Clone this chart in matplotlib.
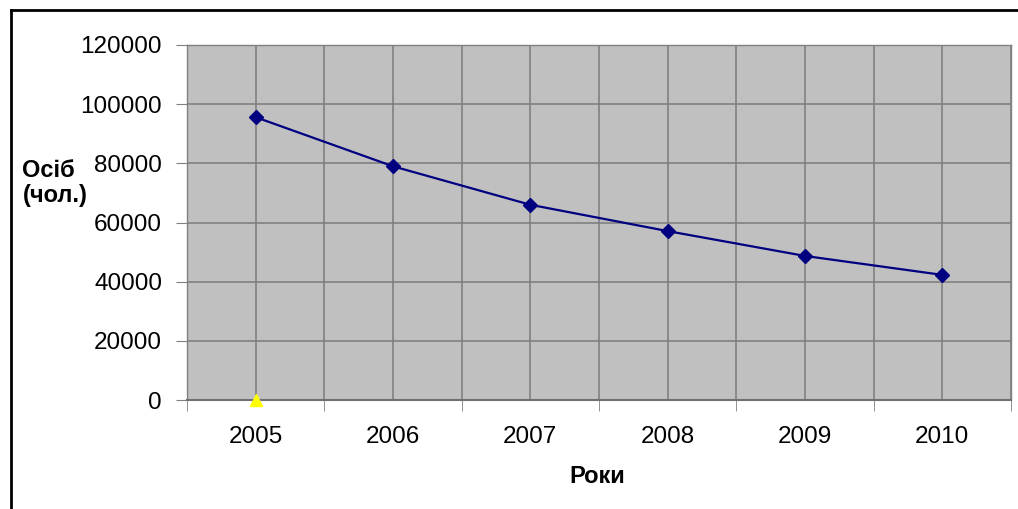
import matplotlib.pyplot as plt
from matplotlib.lines import Line2D

# Chart data
years = ['2005', '2006', '2007', '2008', '2009', '2010']
persons = [95600, 79000, 66000, 57100, 48700, 42300]
marker_series = [0]  # yellow triangle at 2005

plt.rcParams['font.family'] = ['Liberation Sans', 'DejaVu Sans']

fig = plt.figure(figsize=(10.18, 5.09), dpi=100)
ax = fig.add_axes([0.1837, 0.2141, 0.8093, 0.6975])

x = list(range(len(years)))
ax.set_facecolor('#c0c0c0')
ax.plot(x, persons, color='#000080', linewidth=1.6, marker='D',
        markersize=7, zorder=3)
ax.plot(x[:len(marker_series)], marker_series, linestyle='none', marker='^',
        color='#ffff00', markersize=9, zorder=4, clip_on=False)

ax.set_xlim(-0.5, len(years) - 0.5)
ax.set_ylim(0, 120000)
ax.set_yticks(range(0, 120001, 20000))
ax.set_xticks(x)
ax.set_xticklabels(years)
ax.set_xticks([i - 0.5 for i in range(len(years) + 1)], minor=True)

# gridlines at category centres and boundaries
ax.grid(True, which='major', color='#7c7c7c', linewidth=1.1)
ax.grid(True, which='minor', axis='x', color='#7c7c7c', linewidth=1.1)
ax.set_axisbelow(True)

ax.tick_params(axis='y', length=8, color='#808080', pad=10, labelsize=17.5)
ax.tick_params(axis='x', which='major', length=0, pad=19, labelsize=17.5)
ax.tick_params(axis='x', which='minor', length=8, color='#808080')

for side in ['top', 'right', 'left']:
    ax.spines[side].set_color('#808080')
    ax.spines[side].set_linewidth(1)
ax.spines['bottom'].set_color('#707070')
ax.spines['bottom'].set_linewidth(1.5)

fig.text(0.022, 0.64, 'Осіб\n(чол.)', fontsize=17, fontweight='bold',
         ha='left', va='center', linespacing=1.1)
fig.text(0.587, 0.063, 'Роки', fontsize=17, fontweight='bold',
         ha='center', va='center')

# partial black frame around the chart
fig.add_artist(Line2D([0.011, 1.0], [0.98, 0.98], color='black', linewidth=2,
                      transform=fig.transFigure))
fig.add_artist(Line2D([0.011, 0.011], [0.0, 0.98], color='black', linewidth=2,
                      transform=fig.transFigure))

fig.savefig('out.png', dpi=100)
